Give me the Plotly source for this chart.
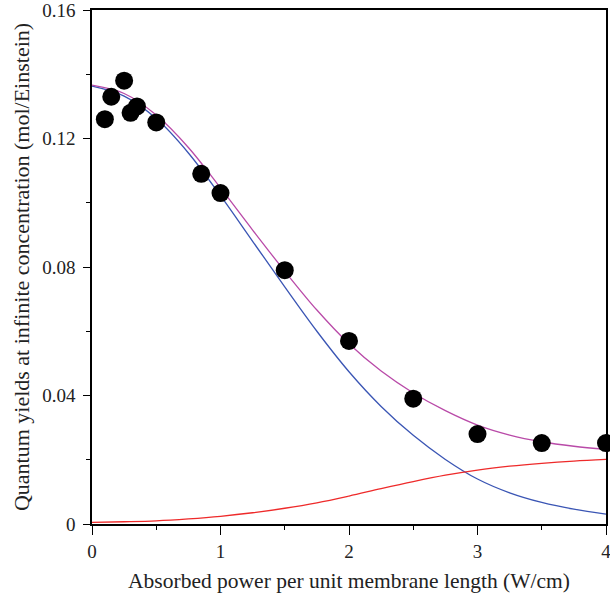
import plotly.graph_objects as go

# Measured data points
x_pts = [0.1, 0.15, 0.25, 0.3, 0.35, 0.5, 0.85, 1.0, 1.5, 2.0, 2.5, 3.0, 3.5, 4.0]
y_pts = [0.126, 0.133, 0.138, 0.128, 0.130, 0.125, 0.109, 0.103, 0.079, 0.057, 0.039, 0.028, 0.0252, 0.0252]

# Curves
x_curve = [0, 0.25, 0.5, 0.75, 1.0, 1.25, 1.5, 1.75, 2.0, 2.25, 2.5, 2.75, 3.0, 3.25, 3.5, 3.75, 4.0]
blue_curve = [0.1363, 0.1332, 0.1262, 0.1155, 0.1022, 0.0880, 0.0738, 0.0600, 0.0474, 0.0366, 0.0276,
              0.0201, 0.0140, 0.0097, 0.0067, 0.0046, 0.0031]
red_curve = [0.0005, 0.0007, 0.0010, 0.0016, 0.0024, 0.0035, 0.0049, 0.0066, 0.0087, 0.0110, 0.0132,
             0.0152, 0.0168, 0.0180, 0.0189, 0.0196, 0.0201]
magenta_curve = [0.1366, 0.1340, 0.1273, 0.1172, 0.1046, 0.0915, 0.0787, 0.0666, 0.0561, 0.0476, 0.0408,
                 0.0353, 0.0308, 0.0277, 0.0256, 0.0242, 0.0232]

x_ticks = [0, 1, 2, 3, 4]
y_ticks = [0, 0.04, 0.08, 0.12, 0.16]
y_tick_text = ["0", "0.04", "0.08", "0.12", "0.16"]

FONT = "Liberation Serif"

fig = go.Figure()
fig.add_trace(go.Scatter(x=x_curve, y=blue_curve, mode="lines", line=dict(color="#3a55b4", width=1.3, shape="spline"),
                         showlegend=False))
fig.add_trace(go.Scatter(x=x_curve, y=red_curve, mode="lines", line=dict(color="#ee2a2a", width=1.3, shape="spline"),
                         showlegend=False))
fig.add_trace(go.Scatter(x=x_curve, y=magenta_curve, mode="lines", line=dict(color="#b94aa8", width=1.3, shape="spline"),
                         showlegend=False))
fig.add_trace(go.Scatter(x=x_pts, y=y_pts, mode="markers", marker=dict(color="black", size=18),
                         showlegend=False, cliponaxis=False))

fig.update_layout(
    width=610, height=600,
    margin=dict(l=92, r=4, t=10, b=76),
    plot_bgcolor="white", paper_bgcolor="white",
    font=dict(family=FONT, size=19, color="#222"),
    xaxis=dict(
        range=[0, 4], tickvals=x_ticks, ticks="outside", ticklen=9, tickwidth=1.2, tickcolor="black",
        showline=True, linecolor="black", linewidth=1.5, mirror=True, showgrid=False, zeroline=False,
        automargin=False, ticklabeloverflow="allow",
        minor=dict(dtick=0.5, ticks="outside", ticklen=4, tickwidth=1.2, tickcolor="black"),
        title=dict(text="Absorbed power per unit membrane length (W/cm)", font=dict(size=21.5), standoff=12),
        tickfont=dict(size=19),
    ),
    yaxis=dict(
        range=[0, 0.16], tickvals=y_ticks, ticktext=y_tick_text, ticks="outside", ticklen=7, tickwidth=1.2,
        tickcolor="black", showline=True, linecolor="black", linewidth=1.5, mirror=True, showgrid=False,
        zeroline=False, automargin=False, ticklabeloverflow="allow", ticklabelstandoff=4,
        minor=dict(dtick=0.02, ticks="outside", ticklen=4, tickwidth=1.2, tickcolor="black"),
        title=dict(text="Quantum yields at infinite concentration (mol/Einstein)", font=dict(size=22), standoff=7),
        tickfont=dict(size=19),
    ),
)

fig.write_html("out.html")
